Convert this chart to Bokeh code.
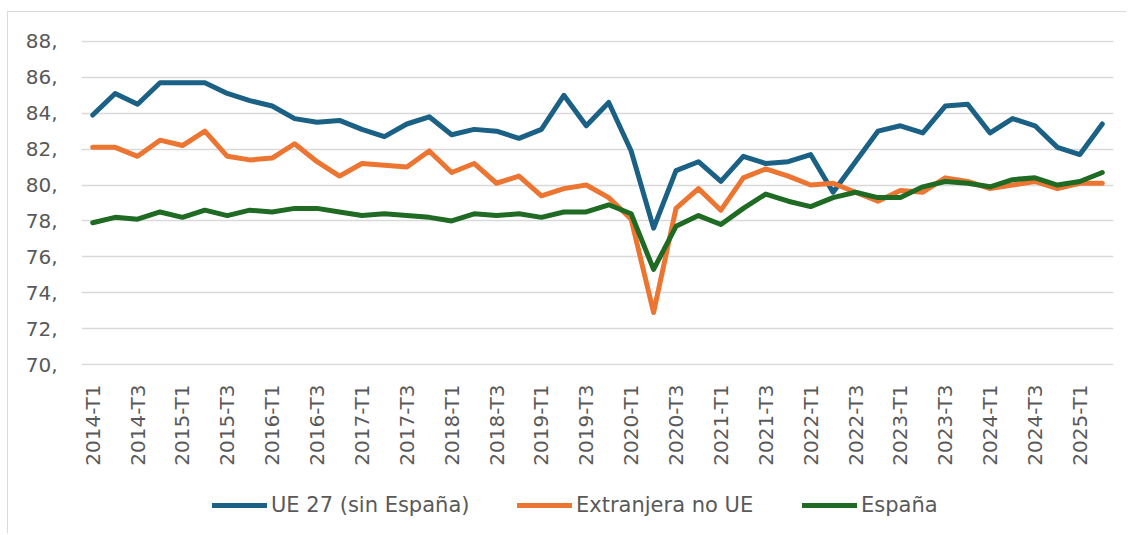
import math
from bokeh.plotting import figure
from bokeh.layouts import column
from bokeh.models import Range1d, FixedTicker, Legend, LegendItem, ColumnDataSource
from bokeh.embed import file_html
from bokeh.resources import INLINE

# ---------------- data ----------------
quarters = [f"{y}-T{q}" for y in range(2014, 2026) for q in range(1, 5)][:46]

ue27 = [83.9, 85.1, 84.5, 85.7, 85.7, 85.7, 85.1, 84.7, 84.4, 83.7, 83.5, 83.6,
        83.1, 82.7, 83.4, 83.8, 82.8, 83.1, 83.0, 82.6, 83.1, 85.0, 83.3, 84.6,
        81.9, 77.6, 80.8, 81.3, 80.2, 81.6, 81.2, 81.3, 81.7, 79.6, 81.3, 83.0,
        83.3, 82.9, 84.4, 84.5, 82.9, 83.7, 83.3, 82.1, 81.7, 83.4]
extranjera_no_ue = [82.1, 82.1, 81.6, 82.5, 82.2, 83.0, 81.6, 81.4, 81.5, 82.3,
                    81.3, 80.5, 81.2, 81.1, 81.0, 81.9, 80.7, 81.2, 80.1, 80.5,
                    79.4, 79.8, 80.0, 79.3, 78.1, 72.9, 78.7, 79.8, 78.6, 80.4,
                    80.9, 80.5, 80.0, 80.1, 79.6, 79.1, 79.7, 79.6, 80.4, 80.2,
                    79.8, 80.0, 80.2, 79.8, 80.1, 80.1]
espana = [77.9, 78.2, 78.1, 78.5, 78.2, 78.6, 78.3, 78.6, 78.5, 78.7, 78.7, 78.5,
          78.3, 78.4, 78.3, 78.2, 78.0, 78.4, 78.3, 78.4, 78.2, 78.5, 78.5, 78.9,
          78.4, 75.3, 77.7, 78.3, 77.8, 78.7, 79.5, 79.1, 78.8, 79.3, 79.6, 79.3,
          79.3, 79.9, 80.2, 80.1, 79.9, 80.3, 80.4, 80.0, 80.2, 80.7]

series_names = ["UE 27 (sin España)", "Extranjera no UE", "España"]
series_colors = ["#1a6185", "#ec7532", "#1f6b24"]
y_ticks = [70, 72, 74, 76, 78, 80, 82, 84, 86, 88]

# ---------------- main chart ----------------
FONT = "DejaVu Sans"
TXT = "#595959"
W = 1126

idx = list(range(len(quarters)))
src = ColumnDataSource(dict(x=idx, ue=ue27, ext=extranjera_no_ue, es=espana))
cols = ["ue", "ext", "es"]

p = figure(width=W, height=470, output_backend="svg", toolbar_location=None,
           x_range=Range1d(-0.5, len(quarters) - 0.5),
           y_range=Range1d(69.95, 88.05),
           min_border_left=81, min_border_right=13, min_border_top=40,
           min_border_bottom=105)
p.outline_line_color = None
p.background_fill_color = None
p.border_fill_color = None

p.xaxis.ticker = FixedTicker(ticks=idx[::2])
p.xaxis.major_label_overrides = {i: quarters[i] for i in idx[::2]}
p.xaxis.major_label_orientation = math.pi / 2
p.yaxis.ticker = FixedTicker(ticks=y_ticks)
p.yaxis.major_label_overrides = {v: f"{v}," for v in y_ticks}
for ax in (p.xaxis, p.yaxis):
    ax.axis_line_color = None
    ax.major_tick_line_color = None
    ax.minor_tick_line_color = None
    ax.major_tick_out = 0
    ax.major_tick_in = 0
    ax.major_label_text_font = FONT
    ax.major_label_text_font_size = "20px"
    ax.major_label_text_color = TXT
p.xaxis.major_label_standoff = 19
p.yaxis.major_label_standoff = 24

p.xgrid.grid_line_color = None
p.ygrid.ticker = FixedTicker(ticks=y_ticks)
p.ygrid.grid_line_color = "#d9d9d9"
p.ygrid.grid_line_width = 1.6

for c, color in zip(cols, series_colors):
    p.line("x", c, source=src, line_color=color, line_width=5,
           line_join="round", line_cap="round")

# ---------------- legend strip ----------------
q = figure(width=W, height=63, output_backend="svg", toolbar_location=None,
           x_range=Range1d(0, 1), y_range=Range1d(0, 1),
           x_axis_location=None, y_axis_location=None,
           min_border_left=0, min_border_right=0, min_border_top=0,
           min_border_bottom=0)
q.grid.visible = False
q.outline_line_color = None
q.background_fill_color = None
q.border_fill_color = None

legend_x = [131, 436, 721]
for c, name, color, lx in zip(cols, series_names, series_colors, legend_x):
    # same series, outside this strip's view: only its legend swatch shows
    r = q.line("x", c, source=src, line_color=color, line_width=5,
               line_cap="round")
    lg = Legend(items=[LegendItem(label=name, renderers=[r])],
                location=(lx, 16), orientation="horizontal",
                border_line_color=None, background_fill_alpha=0,
                padding=0, margin=0, glyph_width=55, glyph_height=20,
                label_height=20, label_standoff=4,
                label_text_font=FONT, label_text_font_size="21px",
                label_text_color=TXT)
    q.add_layout(lg)

frame_css = ("linear-gradient(#d9d9d9, #d9d9d9) 7px 11px / 1px 100% no-repeat, "
             "linear-gradient(#d9d9d9, #d9d9d9) 7px 11px / 100% 1px no-repeat, "
             "#ffffff")
layout = column(p, q, spacing=0, styles={"background": frame_css})
open("out.html", "w").write(file_html(layout, INLINE))
